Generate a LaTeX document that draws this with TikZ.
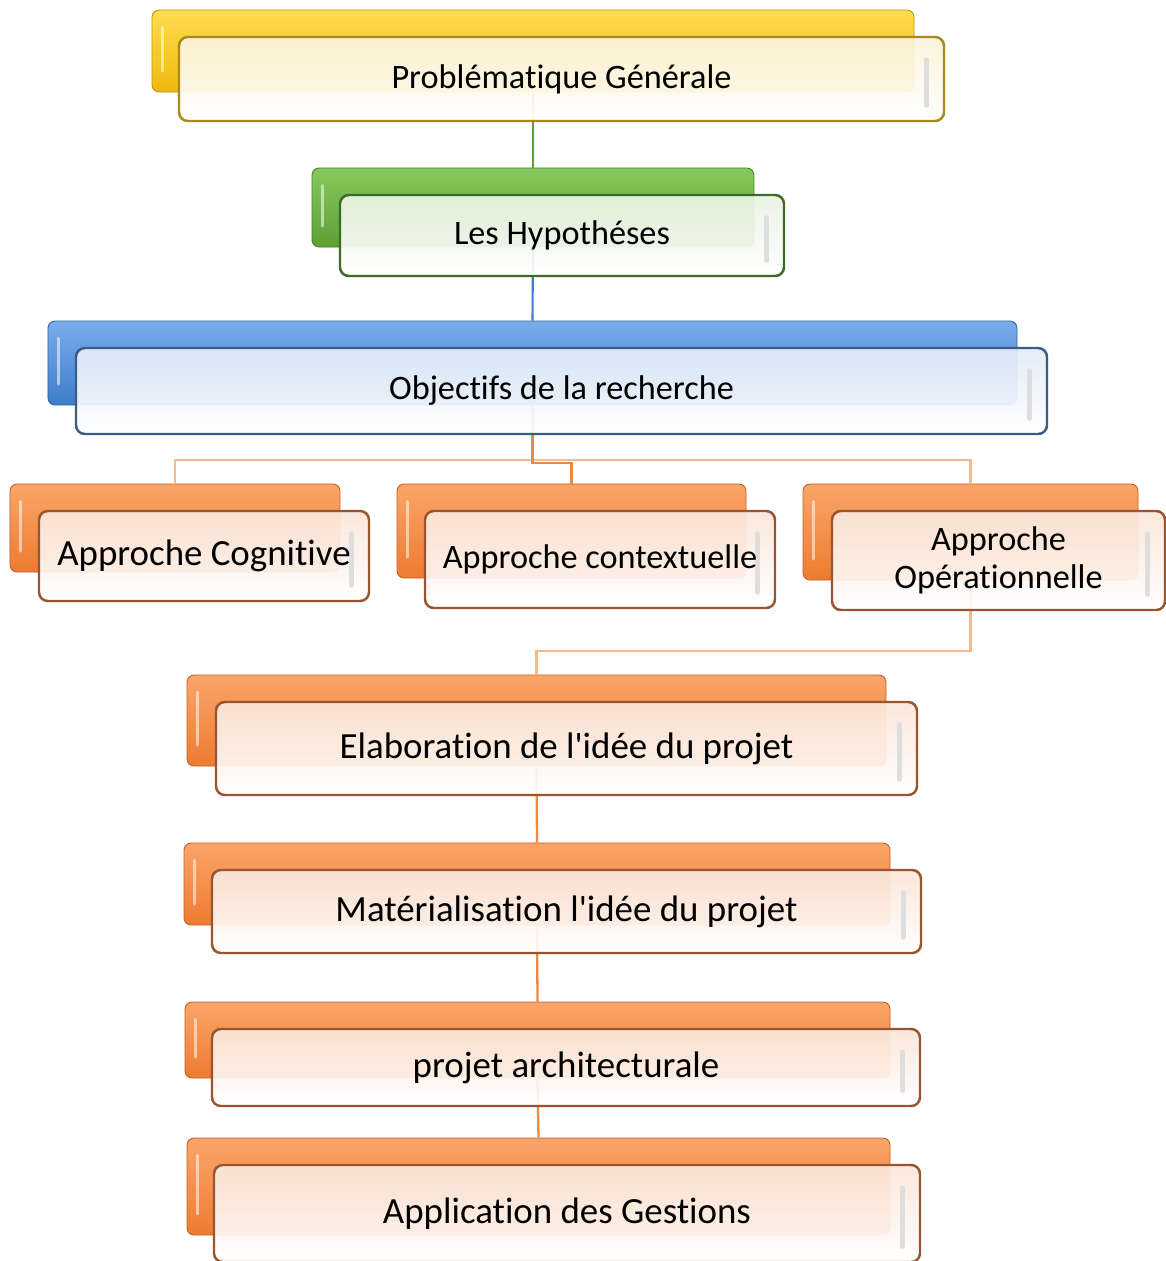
\documentclass[tikz,border=0pt]{standalone}
\usepackage{fontspec}
\setmainfont[Ligatures=NoCommon]{Carlito}
\usepackage{xcolor}
\usetikzlibrary{shapes,arrows}

\definecolor{yelback}{HTML}{EDB90F}
\definecolor{yeltop}{HTML}{FFDC50}
\definecolor{yelline}{HTML}{A8891E}
\definecolor{yelfill}{HTML}{FCF3DA}
\definecolor{grnback}{HTML}{5C9F36}
\definecolor{grntop}{HTML}{86C95C}
\definecolor{grnline}{HTML}{3D6A26}
\definecolor{grnfill}{HTML}{E9F3E2}
\definecolor{bluback}{HTML}{3F7DC9}
\definecolor{blutop}{HTML}{78ADEC}
\definecolor{bluline}{HTML}{3C5C84}
\definecolor{blufill}{HTML}{E2ECF8}
\definecolor{orgback}{HTML}{EE7B31}
\definecolor{orgtop}{HTML}{FAA569}
\definecolor{orgline}{HTML}{99552F}
\definecolor{orgfill}{HTML}{FBE6D9}
\definecolor{orglink}{HTML}{EC8A45}
\definecolor{orglight}{HTML}{F6B98C}

\begin{document}
\begin{tikzpicture}
\tikzstyle{backbox}=[rectangle, rounded corners=4pt, line width=0.5pt, inner sep=0pt,
  path picture={\draw[white, opacity=0.55, line width=2pt, line cap=round]
    ([xshift=6pt,yshift=-10pt]path picture bounding box.north west) --
    ([xshift=6pt,yshift=12pt]path picture bounding box.south west);}]
\tikzstyle{frontbox}=[rectangle, rounded corners=5pt, line width=1.4pt, inner sep=2pt,
  fill opacity=0.93, text opacity=1, align=center,
  path picture={\draw[black!13, line width=3pt, line cap=round]
    ([xshift=-10pt,yshift=-13pt]path picture bounding box.north east) --
    ([xshift=-10pt,yshift=9pt]path picture bounding box.south east);}]
\tikzstyle{backy}=[backbox, draw=yelback!80!black, top color=yeltop, bottom color=yelback]
\tikzstyle{fronty}=[frontbox, draw=yelline, top color=yelfill, bottom color=white]
\tikzstyle{backg}=[backbox, draw=grnback!80!black, top color=grntop, bottom color=grnback]
\tikzstyle{frontg}=[frontbox, draw=grnline, top color=grnfill, bottom color=white]
\tikzstyle{backb}=[backbox, draw=bluback!80!black, top color=blutop, bottom color=bluback]
\tikzstyle{frontb}=[frontbox, draw=bluline, top color=blufill, bottom color=white]
\tikzstyle{backo}=[backbox, draw=orgback!80!black, top color=orgtop, bottom color=orgback]
\tikzstyle{fronto}=[frontbox, draw=orgline, top color=orgfill, bottom color=white]
\tikzstyle{midtext}=[font=\fontsize{19.5}{21.5}\selectfont]
\tikzstyle{bigtext}=[font=\fontsize{21}{23}\selectfont]
\tikzstyle{linkg}=[draw=grnback, line width=1.2pt]
\tikzstyle{linkb}=[draw=bluback, line width=1.2pt]
\tikzstyle{linko}=[draw=orglink, line width=1.3pt]
\tikzstyle{linkol}=[draw=orglight, line width=1.3pt]

\useasboundingbox[fill=white] (0,0) rectangle (23.32,-25.22);

% back boxes
\node[backy, minimum width=15.24cm, minimum height=1.64cm] (G0b) at (10.66,-1.02) {};
\node[backg, minimum width=8.84cm, minimum height=1.58cm] (G1b) at (10.66,-4.15) {};
\node[backb, minimum width=19.38cm, minimum height=1.68cm] (G2b) at (10.65,-7.26) {};
\node[backo, minimum width=6.6cm, minimum height=1.76cm] (G3x0b) at (3.5,-10.56) {};
\node[backo, minimum width=6.98cm, minimum height=1.88cm] (G3x1b) at (11.43,-10.62) {};
\node[backo, minimum width=6.7cm, minimum height=1.92cm] (G3x2b) at (19.41,-10.64) {};
\node[backo, minimum width=13.98cm, minimum height=1.82cm] (G4b) at (10.73,-14.41) {};
\node[backo, minimum width=14.12cm, minimum height=1.64cm] (G5b) at (10.74,-17.68) {};
\node[backo, minimum width=14.1cm, minimum height=1.52cm] (G6b) at (10.75,-20.8) {};
\node[backo, minimum width=14.06cm, minimum height=1.94cm] (G7b) at (10.77,-23.73) {};

% connectors
\coordinate (bus) at (0,-9.2);
\coordinate (jog) at (0,-13.02);
\draw[linkg] (G0b.south) -- (G1b.north);
\draw[linkb] (G1b.south) -- (G2b.north);
\draw[linkol] (G3x0b.north) -- (G3x0b.north |- bus) -- (G3x2b.north |- bus) -- (G3x2b.north);
\draw[linko] (G2b.south) -- ([yshift=-1.5pt]G2b.south |- bus) -- ([yshift=-1.5pt]G3x1b.north |- bus) -- (G3x1b.north);
\draw[linkol] (G3x2b.south) -- (G3x2b.south |- jog) -- (G4b.north |- jog) -- (G4b.north);
\draw[linko] (G4b.south) -- (G5b.north);
\draw[linko] (G5b.south) -- (G6b.north);
\draw[linko] (G6b.south) -- (G7b.north);

% front boxes
\node[fronty, midtext, minimum width=15.3cm, minimum height=1.68cm] (G0f) at (11.23,-1.58) {Problématique Générale};
\node[frontg, midtext, minimum width=8.88cm, minimum height=1.62cm] (G1f) at (11.24,-4.71) {Les Hypothéses};
\node[frontb, midtext, minimum width=19.42cm, minimum height=1.72cm] (G2f) at (11.23,-7.82) {Objectifs de la recherche};
\node[fronto, bigtext, minimum width=6.6cm, minimum height=1.8cm] (G3x0f) at (4.08,-11.12) {Approche Cognitive};
\node[fronto, midtext, minimum width=7.0cm, minimum height=1.94cm] (G3x1f) at (12.0,-11.19) {Approche contextuelle};
\node[fronto, midtext, minimum width=6.66cm, minimum height=1.98cm] (G3x2f) at (19.97,-11.21) {Approche\\Opérationnelle};
\node[fronto, bigtext, minimum width=14.02cm, minimum height=1.86cm] (G4f) at (11.33,-14.97) {Elaboration de l\textquotesingle idée du projet};
\node[fronto, bigtext, minimum width=14.18cm, minimum height=1.66cm] (G5f) at (11.33,-18.23) {Matérialisation l\textquotesingle idée du projet};
\node[fronto, bigtext, minimum width=14.16cm, minimum height=1.54cm] (G6f) at (11.32,-21.35) {projet architecturale};
\node[fronto, bigtext, minimum width=14.12cm, minimum height=1.94cm] (G7f) at (11.34,-24.27) {Application des Gestions};
\end{tikzpicture}
\end{document}
